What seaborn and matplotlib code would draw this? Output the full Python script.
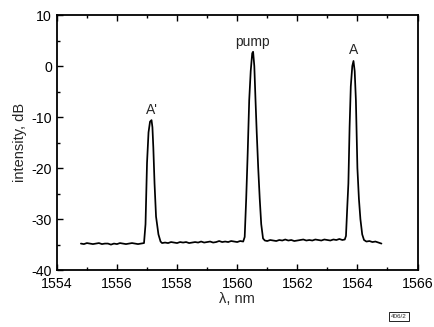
import pandas as pd
import matplotlib
matplotlib.use("Agg")
import matplotlib.pyplot as plt
import seaborn as sns
from matplotlib.ticker import MultipleLocator

# wavelength (nm) and intensity (dB)
wavelength = [
    1554.8, 1554.9, 1555.0, 1555.1, 1555.2, 1555.3, 1555.4, 1555.5, 1555.6, 1555.7,
    1555.8, 1555.9, 1556.0, 1556.1, 1556.2, 1556.3, 1556.4, 1556.5, 1556.6, 1556.7,
    1556.8, 1556.9,
    1556.95, 1557.0, 1557.05, 1557.1, 1557.15, 1557.18, 1557.21, 1557.25, 1557.3,
    1557.38, 1557.45, 1557.5,
    1557.6, 1557.7, 1557.8, 1557.9, 1558.0, 1558.1, 1558.2, 1558.3, 1558.4, 1558.5,
    1558.6, 1558.7, 1558.8, 1558.9, 1559.0, 1559.1, 1559.2, 1559.3, 1559.4, 1559.5,
    1559.6, 1559.7, 1559.8, 1559.9, 1560.0, 1560.1, 1560.2,
    1560.25, 1560.3, 1560.35, 1560.4, 1560.45, 1560.5, 1560.53, 1560.57, 1560.61,
    1560.65, 1560.7, 1560.75, 1560.8, 1560.86, 1560.92,
    1561.0, 1561.1, 1561.2, 1561.3, 1561.4, 1561.5, 1561.6, 1561.7, 1561.8, 1561.9,
    1562.0, 1562.1, 1562.2, 1562.3, 1562.4, 1562.5, 1562.6, 1562.7, 1562.8, 1562.9,
    1563.0, 1563.1, 1563.2, 1563.3, 1563.4, 1563.5,
    1563.58, 1563.62, 1563.66, 1563.7, 1563.74, 1563.78, 1563.83, 1563.87, 1563.91,
    1563.95, 1564.0, 1564.05, 1564.1, 1564.16, 1564.22, 1564.3,
    1564.4, 1564.5, 1564.6, 1564.7, 1564.8,
]
intensity = [
    -34.8, -34.9, -34.7, -34.8, -34.9, -34.8, -34.7, -34.9, -34.8, -34.8,
    -35.0, -34.8, -34.9, -34.7, -34.8, -34.9, -34.8, -34.7, -34.8, -34.9,
    -34.8, -34.7,
    -31.0, -19.0, -13.0, -10.9, -10.6, -12.0, -16.0, -23.0, -29.5,
    -33.0, -34.4, -34.7,
    -34.6, -34.7, -34.5, -34.6, -34.7, -34.5, -34.6, -34.5, -34.7, -34.6,
    -34.5, -34.6, -34.4, -34.6, -34.5, -34.4, -34.6, -34.5, -34.3, -34.5,
    -34.4, -34.5, -34.3, -34.4, -34.5, -34.3, -34.4,
    -33.5, -26.0, -17.0, -6.7, -1.0, 2.5, 2.8, 0.0, -6.7,
    -13.0, -20.0, -26.0, -31.0, -33.8, -34.2,
    -34.3, -34.1, -34.2, -34.3, -34.1, -34.2, -34.0, -34.2, -34.1, -34.3,
    -34.2, -34.1, -34.0, -34.2, -34.1, -34.2, -34.0, -34.1, -34.2, -34.0,
    -34.1, -34.2, -34.0, -34.1, -33.9, -34.1,
    -34.0, -33.3, -28.0, -23.0, -12.0, -4.0, 0.0, 1.0, -1.0,
    -6.7, -20.0, -26.0, -30.0, -33.0, -34.1, -34.4,
    -34.3, -34.5, -34.4, -34.6, -34.8,
]

peak_names = ["A'", "pump", "A"]
peak_pos = [1557.15, 1560.52, 1563.87]
label_y = [-8.6, 4.7, 3.1]

df = pd.DataFrame({"wavelength": wavelength, "intensity": intensity})

sns.set_style("ticks")
plt.rcParams['font.family'] = ['Liberation Sans', 'DejaVu Sans']
plt.rcParams['axes.unicode_minus'] = False

fig = plt.figure(figsize=(4.34, 3.27), dpi=100)
ax = fig.add_axes([0.131, 0.174, 0.831, 0.78])
sns.lineplot(data=df, x="wavelength", y="intensity", color="black",
             linewidth=1.25, estimator=None, sort=False, ax=ax)

ax.set_xlim(1554, 1566)
ax.set_ylim(-40, 10)
ax.xaxis.set_major_locator(MultipleLocator(2))
ax.xaxis.set_minor_locator(MultipleLocator(1))
ax.yaxis.set_major_locator(MultipleLocator(10))
ax.yaxis.set_minor_locator(MultipleLocator(5))
ax.tick_params(which="both", direction="in", top=True, right=False,
               labelsize=10.2, width=1.0, colors="black")
ax.tick_params(axis="x", which="major", pad=5)
ax.tick_params(which="major", length=4)
ax.tick_params(which="minor", length=2.5)
for s in ax.spines.values():
    s.set_linewidth(1.3)
    s.set_color("black")

ax.set_xlabel("λ, nm", fontsize=10.5, labelpad=1)
ax.set_ylabel("intensity, dB", fontsize=10.5, labelpad=3)

for name, xp, yp in zip(peak_names, peak_pos, label_y):
    ax.text(xp, yp, name, ha="center", va="center", fontsize=10)

fig.text(0.919, 0.031, "406/2", fontsize=4.5, ha="center", va="center",
         bbox=dict(boxstyle="square,pad=0.3", fc="white", ec="black", lw=0.6))

fig.savefig("out.png", dpi=100)
